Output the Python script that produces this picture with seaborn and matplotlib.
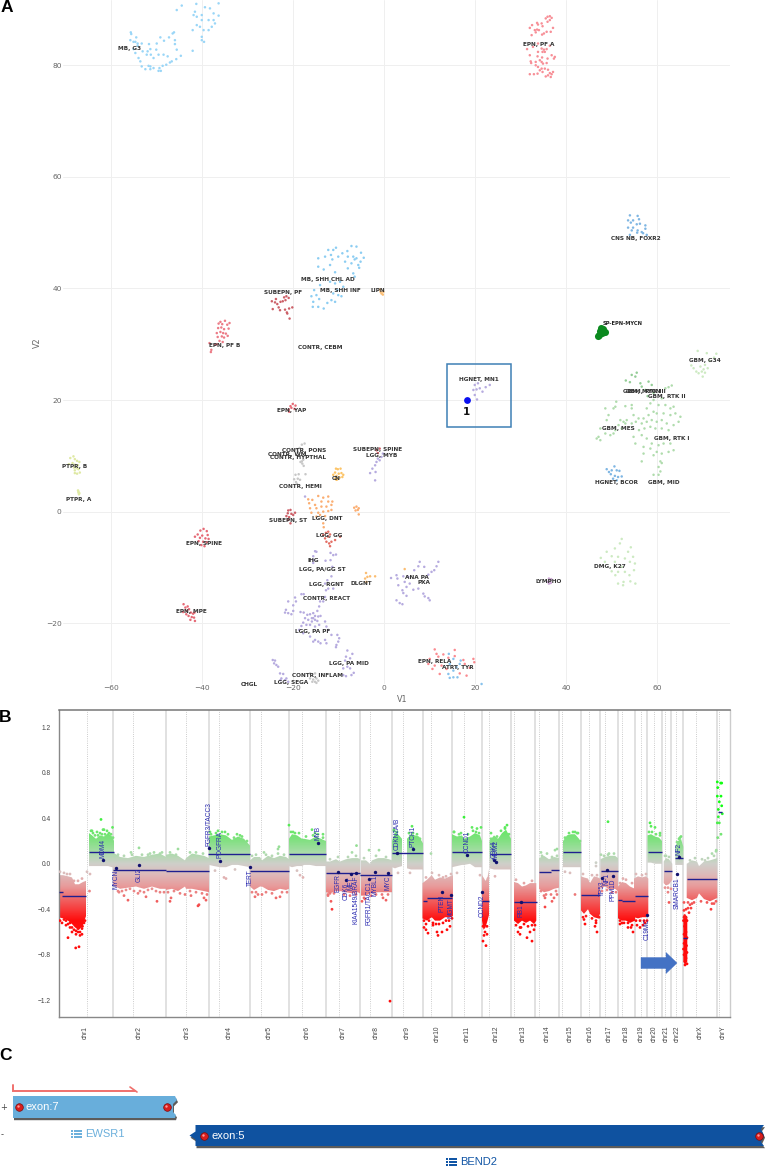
import matplotlib
matplotlib.use('Agg')
import matplotlib.pyplot as plt
import matplotlib.patches as mpatches
from matplotlib.path import Path
import seaborn as sns
import numpy as np
import pandas as pd

# ------------------ panel A: umap clusters, (V1, V2) ------------------
mb_g3 = [(-55.7,85.9),(-55.6,85.6),(-55.8,84.5),(-55.1,84.2),(-54.5,85),(-54.7,84.2),(-54.2,83.9),(-53.3,83.9),(-54.2,83.5),(-55.1,82.9),(-54.7,82.2),(-53.1,82.5),(-52,82.5),(-51.4,82.9),(-51.7,83.8),(-50,83.9),(-49.2,85),(-48.4,84.4),(-47.3,85),(-46.5,85.7),(-46.2,85.9),(-46,84.5),(-46,83.8),(-45.6,82.8),(-44.7,81.7),(-45.7,81.1),(-46.7,80.7),(-47.1,80.5),(-47.9,80.1),(-48.7,79.9),(-49.4,79.5),(-49.6,79),(-49.1,79),(-50.7,79.5),(-51.4,79.8),(-51.8,79.9),(-51.4,79.3),(-52.5,79.3),(-53.3,79.8),(-53.6,80.7),(-54,81.3),(-52.2,81.9),(-51.3,81.9),(-50.7,81.3),(-50.1,82.8),(-49.6,81.9),(-48.5,81.9),(-47.6,81.6),
         (-45.6,89.9),(-44.5,90.7),(-41.3,91),(-41.6,89.6),(-41.9,89),(-41.2,88.7),(-40.1,89),(-39.4,90.4),(-38.3,90.2),(-36.4,91.1),(-37.5,89.3),(-36.4,88.9),(-38.6,88.1),(-37.5,88.1),(-40.1,88.1),(-40.5,86.9),(-41.2,87.2),(-42.1,86.3),(-39.7,86.3),(-38.6,86.3),(-37.9,86.9),(-40.1,85.1),(-39.6,84.2),(-40.1,84.5),(-42.1,82.6),(-37.2,87.5)]
mb_shh = [(-14.5,45.4),(-13,45.7),(-12.3,46.9),(-11.2,46.9),(-10.6,47.3),(-11.7,46),(-11.4,45.2),(-10.1,45.7),(-9.2,46.3),(-8.1,46.7),(-7.2,47.6),(-6.1,47.5),(-5.1,46.4),(-4.5,45.5),(-6.1,45.4),(-6.8,45.7),(-8,45.7),(-8.6,44.8),(-7.2,44.5),(-5.7,44.2),(-5.2,44.8),(-14.5,43.9),(-13.3,43.4),(-11.9,44.2),(-10.8,42.9),(-8,43.6),(-6.8,42.7),(-6.5,42.1),(-5.5,43.7),(-6.5,45.2),
          (-11.9,41.2),(-10.8,40.9),(-9.7,41.2),(-9,40.3),(-14.1,40.6),(-15.4,39.7),(-16,38.6),(-14.9,38.8),(-14.3,38.1),(-15.6,37.6),(-15.7,36.7),(-14.5,36.7),(-13.3,36.4),(-12.5,37.4),(-11.6,37.9),(-10.8,37.6),(-10.1,38.8),(-9.4,38.6),(-10.3,39.7),(-11.2,39.1)]
epn_pf_a = [(36.4,88.8),(35.9,88.7),(35.5,88.4),(36.8,88.5),(36.4,88.1),(35.9,87.8),(33.6,87.6),(33.8,87.3),(34.6,87.5),(34.8,87),(32.5,87.2),(32,86.7),(37.1,86.7),(35.7,86),(36.6,86),(33.1,86.3),(33.6,86.4),(34,86.3),(33.3,85.9),(32.4,85.4),(34.7,85.5),(35.1,85.7),(33.8,83.9),(34.6,83),(35.1,82.8),(35.7,82.9),(31.4,82.9),(32.7,83.3),(36.4,83.5),(33.8,82.4),(34.8,82.4),(35.3,82.4),(32,81.8),(33.7,81.6),(34.7,81.4),(35.9,81.2),(36.8,81.8),(37.5,81.5),(37.3,81.2),(34.2,80.9),(34.6,80.6),(34.9,80.3),(32.2,80.7),(33.3,80.6),(32.3,80.4),(35.7,80.4),(33.3,80),(33.8,79.7),(34.6,79.4),(34.2,79.1),(35.3,79.4),(36,79.2),(34.8,78.8),(37.1,78.8),(36.4,78.6),(36.8,78.4),(36,78.2),(35.5,78),(32,78.4),(32.9,78.4),(33.7,78.5),(36.6,77.9)]
epn_pf_b = [(-36.4,33.7),(-36,34),(-35.6,33.6),(-35,34.2),(-34.5,33.5),(-34,33.8),(-36.5,32.9),(-35.8,33),(-35.2,32.7),(-34.2,32.8),(-36.8,32),(-36,32.2),(-35.4,32),(-34.8,31.9),(-36.6,31.3),(-35.7,31.4),(-35.2,31.2),(-34.4,31.5),(-36.2,30.6),(-35.5,30.4),(-36.8,30),(-38.4,30.2),(-37.2,29.9),(-38,29),(-38.1,28.6)]
epn_other = [(-20.6,18.9),(-20.1,19.3),(-19.5,19),(-21,18.3),(-20.4,18.6),(-19.7,18.4),(-20.9,17.9),
             (-40.4,-3.4),(-39.7,-3.1),(-39,-3.5),(-41,-4.1),(-40,-4.3),(-38.8,-4.2),(-41.6,-4.5),(-40.5,-4.7),(-39.3,-4.8),(-38.6,-4.9),(-40.8,-5.3),(-39.8,-5.4),(-39,-5.5),(-40.2,-6),(-39.5,-6.2),
             (-44.1,-16.6),(-43.7,-17.2),(-43.4,-17.8),(-42.9,-17.5),(-44.2,-18),(-43.5,-18.4),(-42.5,-18.1),(-42,-18.3),(-41.7,-18.1),(-43,-18.7),(-42.3,-18.9),(-41.8,-19),(-42.6,-19.4),(-41.6,-19.6),(-43.2,-17)]
epn_rela = [(11.1,-24.7),(15.5,-24.8),(11.5,-25.5),(13,-25.6),(10,-26.4),(11.9,-26),(14.1,-26.2),(17.4,-26.6),(19.6,-26.4),(9.7,-27.3),(11.1,-27.6),(12.6,-27.6),(19.8,-27),(17.7,-27.3),(10.6,-28.2),(12.2,-29.1),(16.6,-29),(18.1,-29.4),(13.7,-28.2),(18.8,-28),(15.5,-25.9)]
subepn = [(-24.7,37.7),(-24.5,36.3),(-24,37.5),(-23.5,37.2),(-23.2,36.6),(-22.8,37.6),(-22.3,37.7),(-22,38.4),(-21.5,38.6),(-21.7,37.9),(-21,38.3),(-23.8,38.1),(-22.9,36.1),(-21.8,36.2),(-21.3,35.5),(-20.9,36.4),(-20.2,36.6),(-20.8,34.6),(-21.4,35.7),
          (-21.1,.2),(-20.6,.3),(-21.2,-.3),(-20.4,-.4),(-19.6,-.2),(-21.5,-.8),(-20.9,-1),(-20,-.6),(-21.1,-1.5),(-20.6,-2.1),
          (-1.7,11),(-1,11.3),(-1.4,10.5)]
lgg_gg = [(-12.8,-3.8),(-12.3,-3.6),(-13.4,-4.2),(-11.9,-4.1),(-13,-4.8),(-12.3,-4.5),(-10.8,-5.1),(-9.7,-4.5),(-12.7,-5.4),(-11.6,-5.4),(-11.9,-6.2),(-12.1,-5.7)]
lipn_dlgnt = [(-.9,39.8),(-.6,39.1),(-.2,39.4),(-.8,39.4),(-.3,38.9),(-4,-11),(-3.1,-11.6),(-3.7,-11.7),(-2,-11.6),(-4.2,-12),(-3.9,-12.6),(4.5,-10.3)]
cn = [(-11.2,6.6),(-10.8,7),(-10.6,7.7),(-10.2,7.6),(-9.6,7.7),(-10.5,6.4),(-10,6.8),(-9.4,6.9),(-9,6.6),(-9.8,6.1),(-9.2,6.2),(-10.8,5.9),(-10.3,5.8),(-10.5,5.7)]
lgg_dnt = [(-16.7,2.2),(-15.8,2.1),(-14.5,2.8),(-13.4,2.5),(-12.3,2.7),(-16.5,1.5),(-15.2,1.2),(-13.8,1.8),(-12.3,1.8),(-11.4,1.8),(-16.3,.6),(-14.9,.6),(-13.8,.9),(-12.7,.9),(-11.6,1.2),(-16,-.2),(-14.5,-.2),(-13.4,0),(-12.3,.1),(-14.9,-.9),(-14.1,-.6),(-13,-.8),(-13.4,-2.1),(-13.3,-2.8),(-11.6,.3),
           (-6.6,.7),(-6.1,.9),(-5.6,.6),(-6.3,.2),(-5.8,.3),(-5.6,-.5)]
contr = [(-18.1,12),(-17.5,12.2),(-18.6,11.4),(-19.3,11.2),(-19,10.7),(-18.3,10.6),(-17.8,9.3),(-18.1,9),(-18,8.6),(-18.4,8.9),(-17.7,8.2),
         (-19.5,6.6),(-18.8,6.7),(-19.8,5.8),(-19,5.9),(-19.4,5.3),(-18.5,5.7),(-17.3,6.7),(-19.2,5),
         (-16.3,-29.9),(-15.6,-30.1),(-14.9,-29.9),(-14.5,-30.3),(-15.2,-30.5),(-15.8,-30.5),(-14.9,-30.7),(-16.3,-29),(-15.2,-29)]
ptpr = [(-69,9.6),(-68.3,9.9),(-68,9.4),(-67.5,9.1),(-67,8.9),(-69.3,8.5),(-68.5,8.7),(-68,8.4),(-67.3,8.3),(-67.6,7.8),(-68,7.4),(-67.2,7.6),(-68,6.9),(-67.5,6.8),(-66.9,7),(-68.2,7.9),
        (-67.3,3.8),(-67.2,3.4),(-67.1,3.1),(-67.2,3.6),(-67,3.3)]
lgg_pa = [(-17.4,2.7),(-15.2,-7.1),(-14.9,-7.2),(-15.6,-8),(-15.5,-8.7),(-15.6,-9.2),(-11.8,-7.4),(-11.2,-7.8),(-10.6,-7.7),(-12.9,-8.8),(-11.8,-8.7),(-11.4,-9.9),
          (-11.6,-11.6),(-12.5,-12.3),(-13,-12.9),(-12.3,-13.8),(-12.8,-14.1),(-11.2,-13.8),(-13,-15.3),(-13.4,-16.1),
          (-18.2,-14.8),(-17.7,-14.8),(-19.6,-15.4),(-19.4,-16.1),(-20,-16.8),(-21.1,-16.1),(-21.6,-17.6),(-21.8,-18.1),(-21.1,-18.2),(-20.4,-18.4),(-20,-17.8),(-18.4,-18),(-17.7,-18.1),(-14.1,-16.1),(-14.3,-17),(-14.7,-17.8),(-15.6,-18.2),(-16.3,-18.4),(-16.9,-18.5),(-15.2,-18.7),(-14.5,-18.8),(-14,-18.7),(-15.9,-19.1),(-15.2,-19.4),(-14.7,-19.6),(-17.4,-19.1),(-16.7,-19.4),(-15.9,-19.7),(-15.6,-19.1),(-17.8,-19.9),(-18.2,-20.5),(-17.1,-20.3),(-16.3,-20.3),(-15.2,-20.6),(-14.3,-20.3),(-13,-19.7),(-12.7,-20.6),(-12.3,-21.2),(-18.7,-21.2),(-17.8,-21.8),(-16.3,-22.4),(-15.2,-23),(-14.5,-23.3),(-14,-23.6),(-13,-23),(-11.6,-22.1),(-10.3,-22.1),(-9.9,-22.7),(-10.1,-23.3),(-10.5,-23.9),(-10.6,-24.3),(-12.7,-23.6),(-15.6,-23.3),
          (-8.1,-24.9),(-7,-25.5),(-8.4,-26),(-7.5,-26.3),(-8.6,-26.7),(-8.1,-27.8),(-9,-28.1),(-7.5,-28.1),(-6.7,-28.9),(-7.2,-29.3),(-9,-29.3),(-8.4,-29.5),
          (-24.5,-26.6),(-24,-26.7),(-24.2,-27.2),(-23.7,-27.5),(-23.3,-27.8),(-22.9,-29),(-22.2,-29.1),(-22.6,-29.9),(-21.8,-30.2),(-21.5,-29.9),(-22.8,-30.2),(-21.1,-30.5),
          (-1.7,8.9),(-1.4,9.5),(-.6,9.8),(-2,8.3),(-2.6,7.7),(-3.1,6.9),(-1.9,7.1),(-2,5.6),(-1,9.2),(-.3,10.4),
          (11.9,-9),(11.5,-9.8),(11,-10.5),(10.4,-10.8),(9.7,-11.3),(7.8,-9),(7.5,-9.8),(8.8,-9.9),(6.6,-10.5),(1.5,-11.9),(2.7,-11.4),(2.9,-12),(4.2,-11.6),(5.3,-11.7),(4.5,-12.6),(5.6,-12.9),(3.1,-13.2),(4,-14.1),(4.9,-13.5),(6.4,-14),(7.5,-13.8),(4.2,-14.6),(4.9,-15.1),(2.7,-15.9),(3.4,-16.4),(4,-16.6),(8.6,-14.7),(8.9,-15.2),(9.7,-15.5),(10,-15.9),
          (19.9,22.7),(20.6,23),(19.6,21.8),(20.3,21.9),(21,22.1),(21.6,21.5),(22.3,22.3),(23.2,22.7),(19.9,20.9),(20.4,20.1)]
lympho = [(36.2,-12),(36.5,-12.4),(36,-12.6),(36.6,-12.8),(36.2,-12.9),(36.7,-12.1)]
dmg_k27 = [(52.2,-4.9),(51.8,-5.7),(50.7,-6.6),(54.2,-6.4),(53.6,-7.2),(48.9,-7.2),(50,-8),(51.4,-8.1),(52.9,-8.4),(54.7,-8.1),(47.6,-8.3),(48.5,-9),(50.7,-9),(54,-9),(55.1,-9.3),(52.2,-9.9),(50,-10.7),(51.4,-10.8),(52.9,-10.8),(54.9,-10.5),(53.9,-11.4),(50.8,-11.4),(52.6,-12.6),(54.1,-12.5),(55.2,-12.9),(51.4,-12.9),(52.5,-13.2),
           (68.9,28.8),(70.9,28.4),(68,25.7),(68.6,25.1),(69.5,26),(70.5,26.3),(71.1,25.7),(69.8,25.1),(70.5,24.9),(70,24.2),(69.1,24.8),(70.2,25.5),(71.5,27),(72.5,27.6),(73,28.3),(67.5,26.2)]
gbm_dark = [(55.5,24.9),(54.4,24.5),(53.1,23.5),(54,23.2),(56.3,23),(56.6,22.4),(57.4,21.8),(58.1,23.3),(58.8,22.7),(55.2,24.2),(59.2,21.3),(57.9,20.7)]
gbm = [(63.2,22.6),(62.5,22.3),(61.8,22.1),(61,20.3),(59.2,20),(58.5,19.4),(57.7,18.5),(60.3,19.1),(61.8,19.1),(62.9,18.5),(63.6,18.8),(64,17.6),(65.1,17),(64.7,16.1),(62.9,17.3),(61.4,17.6),(59.9,17.6),(59.2,17.9),(58.1,17.3),(57,16.7),(55.9,16.7),(54.8,17.3),(54.4,18.5),(53.3,16.4),(52.6,16.1),(51.9,16.4),(54.4,15.8),(55.3,16.1),(56.6,15.8),(57.7,16.1),(58.8,16.4),(59.9,16.1),(61,16.4),(62.1,15.8),(63.6,15.5),(57.2,14.9),(58.5,15.2),(59.6,14.9),(61,14.9),(62.5,14.6),(56,14.6),(54.8,13.4),(55.2,12.2),(56.6,13.7),(57.7,13.1),(58.8,12.2),(60.3,11.9),(61.4,12.2),(62.9,12.2),(57,11.6),(58.5,11.3),(59.9,10.7),(61,10.4),(62.5,10.7),(63.6,11),(57,10.4),(59.2,10.1),(56.6,9),(60.7,9),(60.3,8),(61,8.7),(59.2,6.6),(60.3,6.6),(60.7,7.2),
       (48.6,18.5),(51,19.7),(50.8,18.8),(50.4,18.5),(49.3,17.3),(53,18.9),(54.4,19.1),(47.5,14.9),(47.1,13.4),(46.7,13.1),(47.5,12.8),(48.6,14),(49.7,13.7),(50.4,14),(50.8,14.6),(48.9,16.4),(51.5,15.5),(52.2,14.9),(53,15.8)]
hgnet_bcor = [(48.9,7.6),(50.6,8.1),(49.4,7.1),(50,7.4),(51.1,7.4),(51.7,7.3),(49.8,6.7),(50.7,6.4),(51.4,6.2),(52.2,6.3),(50.3,5.9),(51.1,5.6),
              (54,53.1),(55.7,53),(53.6,52.2),(54.7,52.2),(56,52.4),(54.2,51.8),(55.5,51.5),(56.2,51.6),(57.4,51.3),(53.6,50.9),(54.7,50.9),(55.7,50.4),(57.4,50.7),(54.4,50.4),(56.6,50.1),(55.6,50),(57.7,49.6),(54,49.6),(56.9,49.9)]
atrt = [(14.2,-25.5),(15.2,-26.4),(16.6,-27.3),(14.4,-27.3),(15.9,-27.9),(15.2,-28.5),(14.1,-29.1),(14.4,-29.8),(15.2,-29.7),(16.1,-29.7),(21.4,-30.9),(16.8,-26.7)]
sp_epn_mycn = [(47.6,32.9),(48.1,32.7),(48.5,32.2),(47.4,32.3),(47.8,32),(47,31.4),(47.2,31.7)]
sample_1 = [(18.1,20)]

clusters = {'mb_g3': mb_g3, 'mb_shh': mb_shh, 'epn_pf_a': epn_pf_a, 'epn_pf_b': epn_pf_b, 'epn_other': epn_other,
            'epn_rela': epn_rela, 'subepn': subepn, 'lgg_gg': lgg_gg, 'lipn_dlgnt': lipn_dlgnt, 'cn': cn, 'lgg_dnt': lgg_dnt,
            'contr': contr, 'ptpr': ptpr, 'lgg_pa': lgg_pa, 'lympho': lympho, 'dmg_k27': dmg_k27, 'gbm_dark': gbm_dark, 'gbm': gbm,
            'hgnet_bcor': hgnet_bcor, 'atrt': atrt}
cluster_colors = {'mb_g3': '#9ad6f7', 'mb_shh': '#8ccdf2', 'epn_pf_a': '#f78f97', 'epn_pf_b': '#ec7c87', 'epn_other': '#e66a76',
                  'epn_rela': '#fb8a90', 'subepn': '#cc6068', 'lgg_gg': '#e46e64', 'lipn_dlgnt': '#fbbd72', 'cn': '#fcc468', 'lgg_dnt': '#fbae72',
                  'contr': '#c8c8c8', 'ptpr': '#dfe9a4', 'lgg_pa': '#b6abdf', 'lympho': '#cba6d2', 'dmg_k27': '#cdeac2', 'gbm_dark': '#94cd97', 'gbm': '#b0dcad',
                  'hgnet_bcor': '#7fb6e3', 'atrt': '#88c2ec'}

umap_labels = ['MB, G3','MB, SHH CHL AD','MB, SHH INF','LIPN','SUBEPN, PF','EPN, PF B','CONTR, CEBM','EPN, PF A','CNS NB, FOXR2','EPN, YAP','CONTR, PONS','CONTR, WM','CONTR, HYPTHAL','SUBEPN, SPINE','LGG, MYB','PTPR, B','PTPR, A','CN','CONTR, HEMI','LGG, DNT','SUBEPN, ST','LGG, GG','EPN, SPINE','IHG','LGG, PA/GG ST','LGG, RGNT','DLGNT','CONTR, REACT','EPN, MPE','LGG, PA PF','LGG, PA MID','CONTR, INFLAM','LGG, SEGA','CHGL','HGNET, MN1','GBM, G34','GBM, RTK III','GBM, MYCN','GBM, RTK II','GBM, MES','GBM, RTK I','HGNET, BCOR','GBM, MID','DMG, K27','ANA PA','PXA','LYMPHO','EPN, RELA','ATRT, TYR']
umap_label_x = [-56,-12.4,-9.7,-1.4,-22.3,-35.1,-14.1,34,55.3,-20.4,-17.6,-21.3,-18.9,-1.5,-.5,-68.1,-67.1,-10.6,-18.5,-12.6,-21.2,-12.1,-39.5,-15.5,-13.7,-12.8,-5,-12.6,-42.3,-15.7,-7.8,-14.7,-20.5,-29.6,20.9,70.5,57.6,56.6,62.2,51.4,63.1,51.1,61.5,49.5,7.3,8.8,36.2,11,16.1]
umap_label_y = [83,41.6,39.7,39.6,39.2,29.7,29.5,83.7,49,18.1,11,10.3,9.75,11.2,10.1,8.1,2.2,5.9,4.5,-1.3,-1.6,-4.2,-5.8,-8.8,-10.3,-13,-12.9,-15.6,-17.9,-21.5,-27.3,-29.3,-30.7,-30.9,23.7,27.1,21.5,21.5,20.7,14.9,13.1,5.3,5.3,-9.8,-11.9,-12.7,-12.5,-26.9,-28]
umap_xticks = [-60, -40, -20, 0, 20, 40, 60]
umap_yticks = [-20, 0, 20, 40, 60, 80]
box_v1 = [13.9, 27.9]
box_v2 = [15.1, 26.4]

# ------------------ panel B: copy number profile, x is position along the genome axis ------------------
chr_names = ['chr1','chr2','chr3','chr4','chr5','chr6','chr7','chr8','chr9','chr10','chr11','chr12','chr13','chr14','chr15','chr16','chr17','chr18','chr19','chr20','chr21','chr22','chrX','chrY']
chr_mid = [85.7,139.3,187,229,269.3,307.7,343.7,376.7,407.7,437.7,467,496,523,547.3,570,590.7,609.3,626.7,641.3,654.7,666.7,677.3,700,723.3]
chr_end = [112.7,165.7,209,249.7,289.3,326.3,360.3,392.3,422.7,452.3,481.7,510.7,535.3,559,581,600.3,618.3,635.3,647.3,661.7,671.3,682.7,716.7]
chr_cen = [87.3,133.3,185.7,219.3,260.7,302.3,339.3,370.3,402.7,431.3,463.7,489.3,514.3,539,562.3,589,605.3,622,641,654.3,665,675.7,696.3,719.3]
cn_yticks = [-1.2,-0.8,-0.4,0.0,0.4,0.8,1.2]

# dense cloud of probes, per arm: position, upper edge, lower edge
band_x = [[58.5,63,68,72,75,79,83,86],[89,92,96,100,104,108,112,114],[113,120,128,136,144,152,160,166],
          [166,172,178,185,186,192,198,204,209],[209,214,220,226,232,238,244,250],[250,254,260,262,268,274,280,286,289],
          [289,292,297,302,304,310,316,321,326],[326,330,336,340,346,352,358,360],[361,366,370,372,378,384,389,392],
          [392,395,398,402],[407,411,415,419,423],[422.5,427,431.7,435,440,445,450,453],[452,457,462,464,470,475,480,482],
          [482,483.5,485.5,487.5,489],[489.5,494,498,502,506,511],[514,518,522,526,530,534,536.3],[539,544,549,554,559],
          [563,567,571,575,579,581],[581,584,588,590,594,598,600],[600.5,605,610,615,618],[618,622,626,630,635],
          [634,638,642,646,648.3],[647.5,651,655,659,662],[663.7,666,669,672.3],[675.3,678,681,683.3],[683.3,685,687.3],
          [686.7,692,697,699,704,710,717.3]]
band_top = [[-.10,-.10,-.11,-.12,-.18,-.18,-.16,-.15],[.27,.25,.22,.25,.24,.27,.24,.2],[.10,.06,.05,.07,.06,.08,.09,.06],
            [.08,.09,.07,.03,.05,.09,.08,.07,.05],[.24,.25,.26,.25,.21,.24,.22,.16],[.03,.06,.06,.03,.07,.05,.07,.06,.04],
            [.22,.26,.25,.22,.22,.21,.24,.22,.2],[.02,.02,.04,.02,.04,.05,.05,.04],[.03,.03,0,.03,.05,.05,.04,.03],
            [.2,.28,.26,.22],[.22,.26,.25,.24,.18],[-.17,-.14,-.1,-.14,-.12,-.13,-.11,-.1],[.26,.24,.25,.22,.24,.27,.25,.2],
            [-.1,-.12,-.15,-.12,-.05],[.2,.25,.22,.27,.3,.22],[-.16,-.17,-.2,-.19,-.17,-.17,-.17],[.05,.07,.04,.06,.05],
            [.2,.25,.26,.26,.22,.18],[-.11,-.12,-.13,-.17,-.11,-.12,-.13],[.04,.06,.07,.07,.05],[-.2,-.16,-.17,-.2,-.22],
            [-.13,-.11,-.12,-.11,-.13],[.25,.26,.24,.23,.2],[.02,.05,.04,.0],[.15,.2,.22,.15],[-.45,-.44,-.47],
            [.0,.03,.02,-.02,.02,.03,.05]]
band_bot = [[-.47,-.48,-.50,-.53,-.56,-.58,-.54,-.46],[-.02,-.02,-.02,-.02,-.02,-.02,-.03,-.03],[-.19,-.22,-.21,-.2,-.22,-.2,-.22,-.22],
            [-.23,-.22,-.24,-.2,-.22,-.22,-.23,-.24,-.25],[-.01,-.02,-.03,-.03,-.01,-.01,-.02,-.03],[-.2,-.23,-.2,-.2,-.23,-.24,-.22,-.23,-.22],
            [-.02,-.03,-.02,-.02,-.01,-.01,-.02,-.02,-.02],[-.25,-.26,-.24,-.24,-.25,-.26,-.25,-.26],[-.28,-.28,-.26,-.26,-.25,-.25,-.25,-.25],
            [-.03,-.04,-.03,-.02],[-.04,-.05,-.05,-.05,-.05],[-.48,-.5,-.47,-.5,-.5,-.47,-.47,-.46],[-.03,-.02,-.01,-.01,0,-.03,-.03,-.03],
            [-.5,-.58,-.56,-.5,-.45],[-.04,-.05,-.05,-.05,-.05,-.05],[-.5,-.53,-.5,-.52,-.5,-.53,-.5],[-.22,-.25,-.24,-.22,-.21],
            [-.03,-.03,-.03,-.03,-.03,-.03],[-.41,-.44,-.4,-.44,-.47,-.48,-.44],[-.22,-.2,-.23,-.22,-.24],[-.48,-.5,-.5,-.52,-.5],
            [-.47,-.48,-.47,-.47,-.44],[.01,.01,0,0,0],[-.17,-.19,-.18,-.14],[-.01,-.01,-.01,-.01],[-.86,-.89,-.86],
            [-.3,-.32,-.3,-.26,-.31,-.33,-.3]]

probe_x = [68,75.7,79,80,82,78,72,70,66,82.5,76,81,101,92,103,104,112.5,97,90,89.5,87,124,128,146,157,138,119,131,139,150,160,
           170,171,178,198,199,206,204,185,191,210,218,225,240,224,226,215,235,255,258,276,280,278,279,264,262,289,293,312,323,315,300,303,297,
           331,332,330,328,356.5,352,369,379,383,386,365,362,394,412,431,410,398,424,426,428,437,438,442,447,450,433,443,
           464,472,477,481,454,457,480,483,486,484,487,507,505,491,495,488,518,520,527,532,534,521,530,544,545,545,552,554,557,557,555,541,
           575,578,565,575,570,584,585,596,597,595,608,596,596,601,608,622,628,631,633,620,623,637,640,643,647,645,650,655,660,651,
           669,668,666,671,680,684,690,711,714,705,712,716,692,717.3,720.7,721.7,717.7,717.3,721,719.3,721.7,718.3,722.3,718.3,719.3,717.3,721,717.7,716.3,
           390,685,687,686,684,689,688,686,684,691]
probe_y = [-.65,-.74,-.73,-.63,-.62,-.6,-.6,-.56,-.54,-.55,-.62,-.55,.39,.29,.3,.3,.32,.28,-.09,-.24,-.07,-.28,-.32,-.29,-.33,-.26,-.25,.1,.14,.09,.09,
           -.33,-.3,.13,-.37,-.36,-.32,-.3,-.27,-.28,.28,.29,.28,.25,-.12,-.13,-.06,-.05,-.29,-.27,-.3,-.29,.13,.15,.1,-.27,.34,.28,.3,.26,.27,-.1,-.12,-.06,
           -.33,-.4,-.26,-.27,.16,.1,.12,.12,-.3,-.32,-.31,-.33,.3,.33,.09,-.08,-.08,-.56,-.58,-.61,-.6,-.63,-.6,-.58,-.55,-.54,-.12,
           .41,.32,.31,.32,.28,-.08,-.1,-.68,-.72,-.63,-.62,.34,.31,.27,-.11,-.13,-.6,-.62,-.65,-.68,-.58,-.56,-.6,-.28,-.3,-.38,-.33,-.3,-.27,.13,.12,.1,
           .28,.27,-.07,-.27,-.08,-.49,-.53,-.52,-.6,-.55,.37,-.02,.01,.08,.08,-.52,-.56,-.56,-.6,-.53,-.13,-.54,-.56,-.54,-.5,-.52,.36,.32,.27,.33,
           -.34,-.25,.07,-.22,.23,-.34,-.36,-.4,-.35,.03,.09,.11,-.35,.72,.71,.71,.67,.595,.595,.545,.51,.478,.44,.413,.36,.36,.26,.23,.12,
           -1.208,-.89,-.88,-.83,-.47,-.43,-.39,-.4,-.41,-.39]
# probes along the rim of the dense cloud
edge_probes = [(60,-.5),(62,-.52),(64,-.49),(66,-.5),(68,-.53),(70,-.52),(72,-.56),(74,-.58),(76,-.59),(78,-.57),(80,-.6),(82,-.57),(84,-.52),(85,-.5),(60,-.07),(64,-.08),(67,-.09),(70,-.09),(74,-.15),(78,-.15),(82,-.13),
               (91,.29),(93,.27),(95,.25),(98,.25),(100,.27),(102,.26),(105,.26),(107,.29),(109,.27),(111,.26),(113,.23),
               (118,-.24),(122,-.24),(126,-.23),(130,-.22),(134,-.24),(140,-.24),(144,-.25),(148,-.23),(152,-.22),(156,-.24),(160,-.25),(164,-.25),(118,.08),(124,.07),(132,.08),(142,.08),(148,.08),(154,.1),(162,.1),
               (168,-.25),(174,-.24),(180,-.26),(190,-.24),(196,-.25),(202,-.26),(207,-.27),(170,.1),(176,.08),(190,.1),(196,.1),(203,.09),
               (211,.26),(216,.27),(222,.28),(228,.26),(234,.23),(237,.26),(242,.24),(247,.2),
               (252,.07),(256,.08),(266,.08),(272,.07),(278,.09),(284,.08),(252,-.25),(256,-.25),(266,-.25),(272,-.26),(282,-.25),(287,-.25),
               (291,.28),(295,.27),(299,.27),(306,.24),(313,.25),(318,.26),(323,.23),
               (328,-.28),(334,-.26),(344,-.27),(350,-.28),(356,-.27),(330,.04),(338,.06),(348,.06),(356,.07),
               (364,-.3),(371,-.28),(376,-.27),(382,-.27),(388,-.27),(364,.05),(376,.07),(386,.06),
               (394,.29),(397,.28),(409,.27),(413,.27),(417,.26),(420,.22),
               (424,-.5),(426,-.53),(429,-.5),(433,-.52),(436,-.53),(439,-.53),(443,-.52),(446,-.5),(449,-.5),(452,-.48),(426,-.12),(432,-.08),(439,-.1),(446,-.11),(451,-.09),
               (454,.28),(459,.26),(461,.27),(468,.26),(473,.29),(476,.28),(479,.27),
               (483,-.55),(485,-.6),(487,-.55),(491,.22),(497,.24),(501,.29),(505,.32),(509,.26),
               (516,-.54),(520,-.56),(524,-.53),(528,-.55),(532,-.54),(535,-.54),(516,-.14),(524,-.17),(532,-.15),
               (541,-.24),(546,-.27),(551,-.27),(556,-.24),(542,.07),(547,.09),(552,.06),(557,.07),
               (565,.23),(569,.27),(573,.28),(577,.27),(580,.2),
               (583,-.47),(586,-.46),(592,-.48),(596,-.5),(599,-.47),(583,-.09),(592,-.1),(597,-.1),
               (602,-.24),(607,-.23),(612,-.25),(616,-.25),(604,.07),(609,.09),(614,.09),
               (620,-.5),(624,-.52),(628,-.52),(632,-.54),(620,-.17),(626,-.14),(632,-.17),
               (636,-.5),(640,-.5),(644,-.5),(636,-.09),(642,-.1),(646,-.09),
               (649,.28),(652,.28),(656,.26),(660,.25),(665,-.21),(668,-.21),(665,.07),(669,.06),
               (677,.19),(679,.22),(681,.24),(683.5,-.5),(684.5,-.55),(686,-.6),(687,-.65),(684,-.7),(686.5,-.72),(684,-.8),(687,-.78),(685,-.86),(686,-.66),(684,-.62),(683.5,-.75),(687,-.5),(686,-.47),
               (688,-.34),(694,-.34),(701,-.33),(707,-.34),(712,-.35),(716,-.33),(690,.03),(695,.05),(702,.04),(708,.05),(714,.07)]

seg_x0 = [58.5,62,89,113,166,208,250,289,326,360,392,422.5,427,452,482,489.5,514,539,551,563,581,600.5,618,622,635,648,663.7,675.3,683.3,686.7,717.5]
seg_x1 = [62.5,86,114,166,209,250,289,326,360,392,423,427,452,482,489,511,536.5,551,559,581,600.3,618.3,622,635,648.3,662,672.3,683.3,687.3,717.3,722]
seg_y = [-.25,-.287,.103,-.053,-.065,.088,-.062,.09,-.082,-.103,.094,-.331,-.302,.103,-.328,.09,-.34,-.073,-.056,.1,-.276,-.062,-.32,-.33,-.28,.108,-.067,.047,-.654,-.132,.455]

gene_names = ['MDM4','MYCN','GLI2','FGFR3/TACC3','PDGFRA','TERT','MYB','EGFR','CDK6','MET','KIAA1549/BRAF','FGFR1/TACC1','MYBL1','MYC','CDKN2A/B','PTCH1','PTEN','MGMT','CCND1','CCND2','CDK4','MDM2','RB1','TP53','NF1','PPM1D','C19MC','SMARCB1','NF2']
gene_x = [103.3,116.3,139.3,208.7,220.3,250,318.3,338,346,351,356,369,375,388.3,397,413.3,442,451,467.3,482.3,493.7,496.3,521,602,606.7,613.3,646.7,677.3,678.7]
gene_y = [.03,-.035,-.015,.135,.026,-.03,.185,-.07,-.145,-.09,-.085,-.13,-.07,-.08,.097,.13,-.252,-.278,.073,-.252,.03,.02,-.334,-.123,-.056,-.111,-.452,-.094,.056]
gene_up = [1,0,0,1,1,0,1,0,0,0,0,0,0,0,1,1,0,0,1,0,1,1,0,0,0,0,0,0,1]

arrow_x = [641, 677]
exon_labels = ['exon:7', 'exon:5']
gene_labels = ['EWSR1', 'BEND2']

# ------------------ drawing ------------------
W, H = 770, 1167
sns.set_theme(style='whitegrid')
plt.rcParams['font.family'] = ['DejaVu Sans']
fig = plt.figure(figsize=(7.7, 11.67), dpi=100)

def px_axes(x0, y0, x1, y1, **kw):
    return fig.add_axes([x0 / W, 1 - y1 / H, (x1 - x0) / W, (y1 - y0) / H], **kw)

# panel A
ax = px_axes(63, 0, 730, 684)
rows = [(n, x, y) for n, pts in clusters.items() for x, y in pts]
df = pd.DataFrame(rows, columns=['cluster', 'V1', 'V2'])
sns.scatterplot(data=df, x='V1', y='V2', hue='cluster', palette=cluster_colors, s=3.2, linewidth=0, legend=False, ax=ax, clip_on=False)
sp_df = pd.DataFrame(sp_epn_mycn, columns=['V1', 'V2'])
sns.scatterplot(data=sp_df, x='V1', y='V2', color='#0b8a1f', s=26, linewidth=0, ax=ax)
s1_df = pd.DataFrame(sample_1, columns=['V1', 'V2'])
sns.scatterplot(data=s1_df, x='V1', y='V2', color='#0a10f0', s=24, linewidth=0, ax=ax)
ax.set_xlim(-70.6, 76)
ax.set_ylim(-30.9, 91.7)
ax.set_xticks(umap_xticks)
ax.set_yticks(umap_yticks)
ax.set_xticklabels([str(t).replace('-', '\u2212') for t in umap_xticks])
ax.set_yticklabels([str(t).replace('-', '\u2212') for t in umap_yticks])
ax.grid(True, color='#efefef', lw=0.7)
ax.tick_params(length=0, labelsize=5.4, labelcolor='#666666', pad=1)
for s in ax.spines.values():
    s.set_visible(False)
ax.set_xlabel('V1', fontsize=5.8, color='#666666')
ax.set_ylabel('V2', fontsize=5.8, color='#666666')
ax.xaxis.set_label_coords(0.508, -0.0165)
ax.yaxis.set_label_coords(-0.031, 0.4985)
for name, x, y in zip(umap_labels, umap_label_x, umap_label_y):
    ax.text(x, y, name, fontsize=4.15, fontweight='bold', color='#333333', ha='center', va='center', clip_on=False)
ax.text(52.5, 33.8, 'SP-EPN-MYCN', fontsize=3.7, fontweight='bold', color='#222222', ha='center', va='center')
ax.text(18.1, 17.9, '1', fontsize=7.5, fontweight='bold', color='#111111', ha='center', va='center')
ax.add_patch(mpatches.Rectangle((box_v1[0], box_v2[0]), box_v1[1] - box_v1[0], box_v2[1] - box_v2[0], fill=False, ec='#3f80b5', lw=1.1))

# panel B
cmap = sns.blend_palette(['#ff0c0c', '#f83c3c', '#ee6a6a', '#e89a9a', '#deb8b8', '#cfcfca', '#a9dca9', '#84e084', '#66e866', '#3cf03c', '#10ff10'], as_cmap=True)
bx = px_axes(58.5, 710.3, 730, 1016.7)
bx.grid(False)
bx.set_facecolor('white')
bx.vlines(chr_end, -1.345, 1.35, color='#d9d9d9', lw=1.1, zorder=1)
bx.vlines(chr_cen, -1.345, 1.35, color='#bbbbbb', lw=0.6, linestyles=':', zorder=1)

verts, codes = [], []
for xs, top, bot in zip(band_x, band_top, band_bot):
    poly = list(zip(xs, top)) + list(zip(xs[::-1], bot[::-1]))
    verts += poly + [poly[0]]
    codes += [Path.MOVETO] + [Path.LINETO] * (len(poly) - 1) + [Path.CLOSEPOLY]
band_patch = mpatches.PathPatch(Path(verts, codes), transform=bx.transData, fc='none', ec='none')
bx.add_patch(band_patch)
ramp = np.linspace(-1.345, 1.35, 512).reshape(-1, 1)
im = bx.imshow(ramp, extent=[58.5, 730, -1.345, 1.35], origin='lower', aspect='auto', cmap=cmap, vmin=-.5, vmax=.5, zorder=2)
im.set_clip_path(band_patch)

edge_x = [p[0] for p in edge_probes]
edge_y = [p[1] for p in edge_probes]
probes = pd.DataFrame({'pos': probe_x + edge_x, 'log2': probe_y + edge_y})
sns.scatterplot(data=probes, x='pos', y='log2', hue='log2', palette=cmap, hue_norm=(-.5, .5), s=4, linewidth=0, legend=False, ax=bx, zorder=3)
bx.hlines(seg_y, seg_x0, seg_x1, color='#1f1f8f', lw=1.0, zorder=4)
genes = pd.DataFrame({'pos': gene_x, 'log2': gene_y})
sns.scatterplot(data=genes, x='pos', y='log2', color='#10106e', s=6, linewidth=0, ax=bx, zorder=5)
for name, x, y, up in zip(gene_names, gene_x, gene_y, gene_up):
    bx.text(x, y + (.022 if up else -.022), name, rotation=90, fontsize=4.7, family='Liberation Sans', color='#2a2ab0',
            ha='center', va='bottom' if up else 'top', zorder=5)
bx.set_xlim(58.5, 730)
bx.set_ylim(-1.345, 1.35)
bx.set_xticks(chr_mid)
bx.set_xticklabels(chr_names, rotation=90, fontsize=4.8, family='Liberation Sans', color='#444444')
bx.set_yticks(cn_yticks)
bx.set_yticklabels([f'{t:.1f}'.replace('-', '\u2212') for t in cn_yticks], fontsize=4.8, family='Liberation Sans', color='#444444')
bx.tick_params(axis='both', length=2.5, width=0.6, color='#666666', pad=3)
bx.tick_params(axis='x', pad=4)
bx.set_xlabel('')
bx.set_ylabel('')
for side, col, lw in [('top', '#777777', 1.1), ('left', '#888888', 1.0), ('bottom', '#888888', 1.0), ('right', '#cccccc', 1.0)]:
    bx.spines[side].set_color(col)
    bx.spines[side].set_linewidth(lw)

# overlay in figure pixels: panel letters, arrow, panel C
ov = fig.add_axes([0, 0, 1, 1], facecolor='none')
ov.set_xlim(0, W)
ov.set_ylim(H, 0)
ov.axis('off')
for letter, x, y in [('A', 7, 8), ('B', 5, 717), ('C', 6, 1055)]:
    ov.text(x, y, letter, fontsize=12.5, fontweight='bold', family='Liberation Sans', color='black', ha='center', va='center')

ov.add_patch(mpatches.FancyArrow(arrow_x[0], 963, arrow_x[1] - arrow_x[0], 0, width=11, head_width=21, head_length=11,
                                 length_includes_head=True, fc='#4472c4', ec='#4472c4', lw=0.3))

def exon(x0, x1, y0, y1, color, left_tip):
    ym = (y0 + y1) / 2
    if left_tip:
        pts = [(x0, y0), (x1, y0), (x1 - 3, y0 + 4), (x1, ym), (x1 - 3, y1 - 4), (x1, y1), (x0, y1), (x0, ym + 4), (x0 - 6, ym), (x0, ym - 4)]
    else:
        pts = [(x0, y0), (x1 - 1, y0), (x1 + 1, y0 + 4), (x1 - 3, y0 + 8), (x1 - 3, y1 - 6), (x1, y1 - 3), (x1 - 1, y1), (x0, y1)]
    ov.add_patch(mpatches.Polygon([(a + 1, b + 2.2) for a, b in pts], closed=True, fc='#333333', ec='none', alpha=0.8))
    ov.add_patch(mpatches.Polygon(pts, closed=True, fc=color, ec='none'))

exon(13, 176, 1096, 1118, '#68aedb', False)
exon(195.5, 764, 1125, 1146, '#0f52a0', True)
ball_x, ball_y = [18.5, 167, 204, 759], [1106.5, 1106.5, 1136, 1136]
ov.scatter(ball_x, ball_y, s=30, c='#d81e1e', edgecolors='#7a0c0c', linewidths=0.5, zorder=5)
ov.scatter([v - 0.7 for v in ball_x], [v - 1 for v in ball_y], s=3, c='#ff9a9a', linewidths=0, zorder=6)
ov.text(25, 1107, exon_labels[0], fontsize=8, family='Liberation Sans', color='white', va='center')
ov.text(211, 1136, exon_labels[1], fontsize=8, family='Liberation Sans', color='white', va='center')
ov.plot([13, 13, 135], [1085, 1091, 1091], color='#f0706c', lw=1.4, solid_joinstyle='miter')
ov.plot([130, 137, 137], [1087, 1092, 1092], color='#f0706c', lw=1.2)
ov.text(4, 1107, '+', fontsize=6, color='#444444', ha='center', va='center')
ov.text(1.8, 1135, '-', fontsize=6, color='#444444', ha='center', va='center')

def gene_tag(x, y, name, color):
    for dy in (-3, 0, 3):
        ov.add_patch(mpatches.Rectangle((x, y + dy - 1), 2, 2, fc=color, ec='none'))
        ov.add_patch(mpatches.Rectangle((x + 3, y + dy - 1), 8, 2, fc=color, ec='none'))
    ov.text(x + 14, y, name, fontsize=8, family='Liberation Sans', color=color, va='center')

gene_tag(71, 1134, gene_labels[0], '#6cb0dc')
gene_tag(446, 1162, gene_labels[1], '#1155a5')

fig.savefig('out.png', dpi=100)
